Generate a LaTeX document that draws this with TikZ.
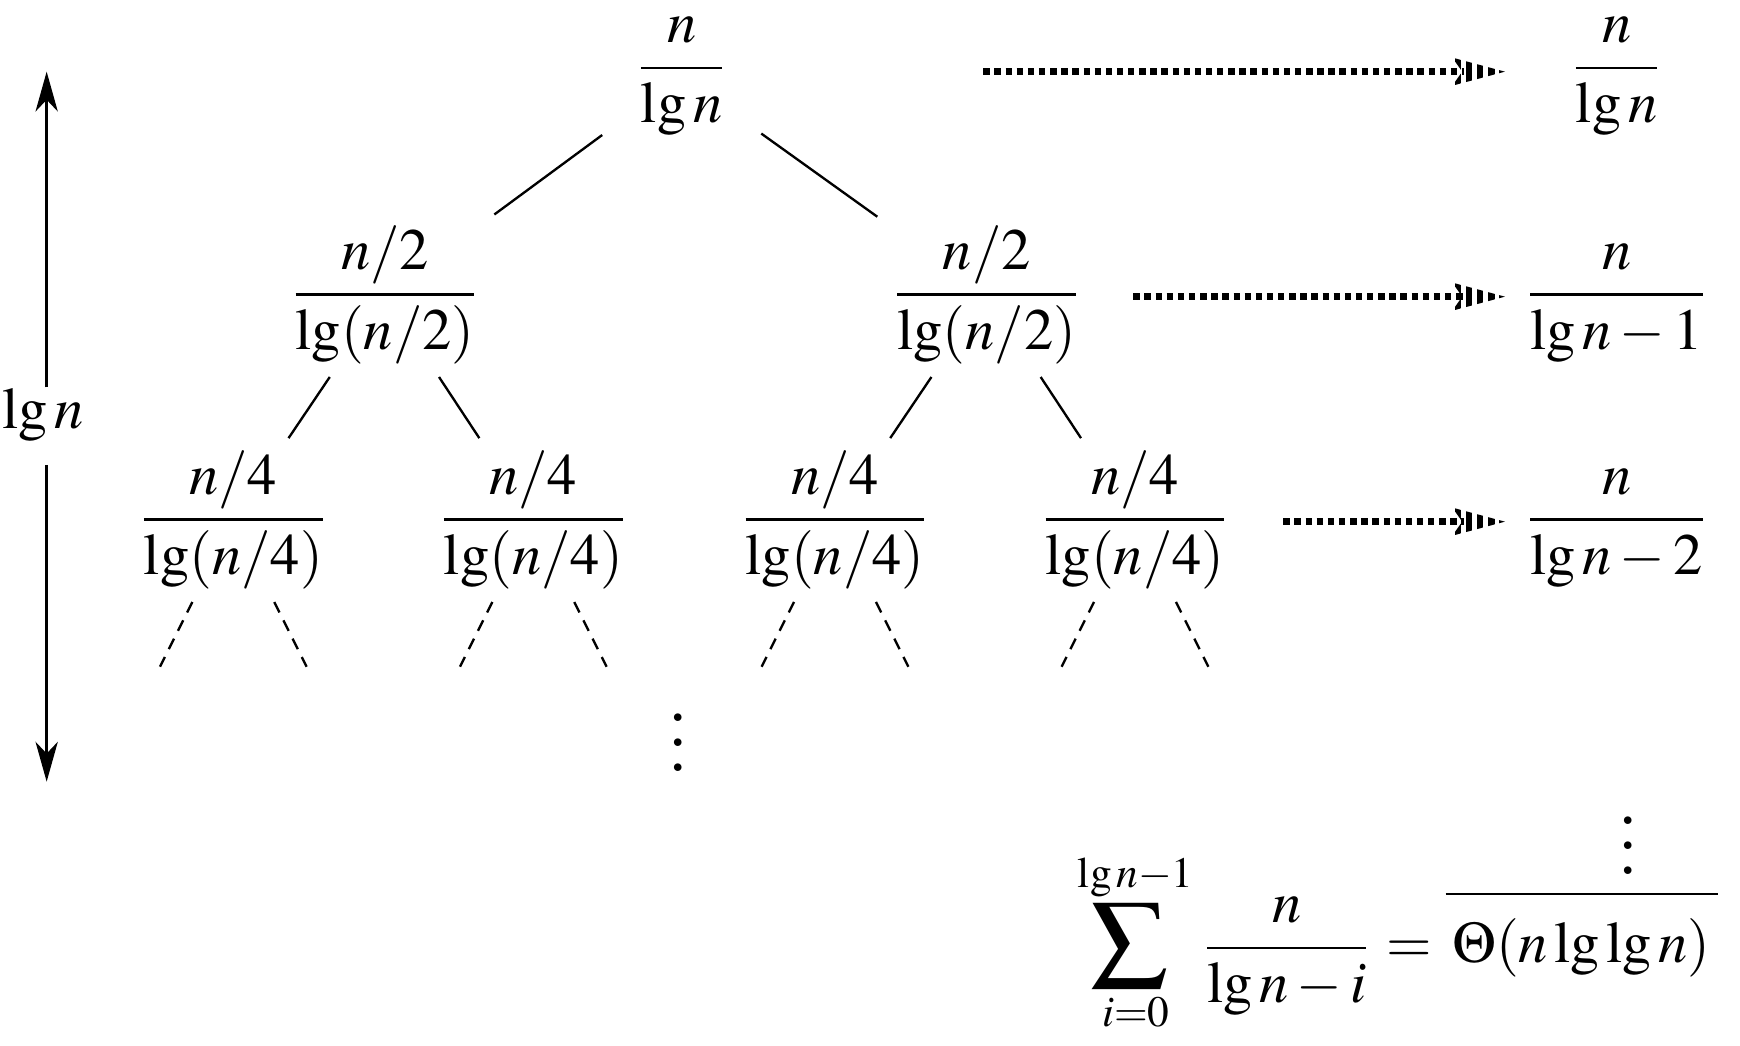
\documentclass[tikz,border=0pt]{standalone}
\usepackage{amsmath}
\usepackage{mathptmx}
\usetikzlibrary{arrows.meta,patterns.meta}
\newcommand{\bigdots}{\vbox{\fontsize{13.5}{13.5}\selectfont
  \baselineskip4.3pt\lineskiplimit0pt\kern6pt
  \hbox{.}\hbox{.}\hbox{.}}}

\begin{document}
\begin{tikzpicture}[
    cost/.style={inner sep=2pt,anchor=mid},
    flow/.style={line width=1.3pt,dash pattern=on 1.1pt off 0.8pt,shorten >=7pt},
    flowhead/.style={pattern={Lines[angle=90,distance=1.9pt,line width=1.1pt]}},
    leafedge/.style={dash pattern=on 2pt off 1.5pt},
    height/.style={-{Stealth[length=6.8pt,width=3.8pt,inset=2pt]}}]
  \useasboundingbox (0,0) rectangle (10.44,-6.276);
  % recursion tree
  \node[cost] (root) at (4.09,-0.42) {$\dfrac{n}{\lg n}$};
  \node[cost] (l) at (2.31,-1.78) {$\dfrac{n/2}{\lg(n/2)}$};
  \node[cost] (r) at (5.92,-1.78) {$\dfrac{n/2}{\lg(n/2)}$};
  \foreach \i/\x in {1/1.40,2/3.20,3/5.01,4/6.81}
    \node[cost] (q\i) at (\x,-3.13) {$\dfrac{n/4}{\lg(n/4)}$};
  \draw[shorten <=4pt] (root) -- (l);
  \draw[shorten <=4pt] (root) -- (r);
  \draw (l) -- (q1);
  \draw (l) -- (q2);
  \draw (r) -- (q3);
  \draw (r) -- (q4);
  \foreach \i in {1,...,4} {
    \path (q\i) ++(-0.44,-0.88) coordinate (q\i a);
    \path (q\i) ++(0.44,-0.88) coordinate (q\i b);
    \draw[leafedge] (q\i) -- (q\i a);
    \draw[leafedge] (q\i) -- (q\i b);
  }
  \node[anchor=base] (dots) at (4.07,-4.63) {\bigdots};
  % cost per level
  \node[anchor=mid] (t0) at (9.70,-0.42) {$\dfrac{n}{\lg n}$};
  \node[anchor=mid] (t1) at (9.70,-1.78) {$\dfrac{n}{\lg n-1}$};
  \node[anchor=mid] (t2) at (9.70,-3.13) {$\dfrac{n}{\lg n-2}$};
  \node[anchor=base] (tdots) at (9.77,-5.25) {\bigdots};
  \foreach \i/\x/\y in {0/5.90/-0.43,1/6.80/-1.78,2/7.70/-3.13} {
    \coordinate (f\i) at (\x,\y);
    \coordinate (g\i) at (9.03,\y);
    \draw[flow] (f\i) -- (g\i);
    \fill[flowhead] (g\i) -- ++(-9pt,2.4pt) -- ++(1.7pt,-2.4pt) -- ++(-1.7pt,-2.4pt) -- cycle;
  }
  % total
  \node[anchor=mid] (sum) at (7.53,-5.70)
    {$\displaystyle\mathop{\scalebox{1.3}[1.17]{$\displaystyle\sum$}}_{i=0}^{\lg n-1}\frac{n}{\lg n-i}=$};
  \node[anchor=mid,inner xsep=1pt] (total) at (9.49,-5.70) {$\Theta(n\lg\lg n)$};
  \draw ([yshift=0.7pt]total.north west) -- ([yshift=0.7pt]total.north east);
  % tree height
  \coordinate (htop) at (0.28,-0.43);
  \coordinate (hbot) at (0.28,-4.69);
  \node[inner sep=0pt] (hlbl) at (0.26,-2.49) {$\lg n$};
  \draw[height] (hlbl.north -| htop) -- (htop);
  \draw[height,shorten <=3.8pt] (hlbl.south -| hbot) -- (hbot);
\end{tikzpicture}
\end{document}
